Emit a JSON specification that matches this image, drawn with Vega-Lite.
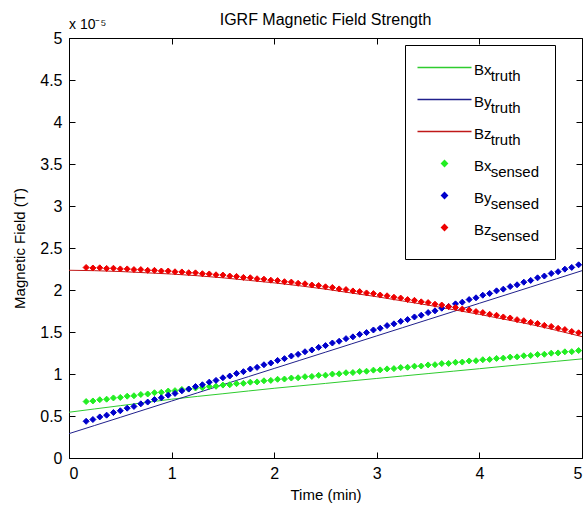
{
  "$schema": "https://vega.github.io/schema/vega-lite/v6.json",
  "width": 513,
  "height": 420,
  "autosize": {"type": "none"},
  "padding": {"left": 69, "top": 38, "right": 3, "bottom": 48},
  "background": "white",
  "title": {"text": "IGRF Magnetic Field Strength", "font": "Liberation Sans", "fontSize": 16, "fontWeight": "normal", "color": "black", "offset": -10},
  "config": {
    "font": "Liberation Sans",
    "view": {"stroke": "black", "strokeWidth": 1},
    "axis": {"grid": false, "ticks": true, "domainColor": "black", "tickColor": "black", "labelColor": "black", "titleColor": "black", "labelFont": "Liberation Sans", "titleFont": "Liberation Sans", "labelFontSize": 16, "titleFontSize": 15, "titleFontWeight": "normal", "tickSize": -6, "tickWidth": 1, "labelPadding": 13}
  },
  "resolve": {"axis": {"x": "independent", "y": "independent"}},
  "datasets": {
    "truth": [
      {"t": 0, "Bx_truth": 0.545, "By_truth": 0.29, "Bz_truth": 2.235},
      {"t": 0.25, "Bx_truth": 0.584, "By_truth": 0.387, "Bz_truth": 2.23},
      {"t": 0.5, "Bx_truth": 0.623, "By_truth": 0.484, "Bz_truth": 2.22},
      {"t": 0.75, "Bx_truth": 0.661, "By_truth": 0.581, "Bz_truth": 2.205},
      {"t": 1, "Bx_truth": 0.70, "By_truth": 0.678, "Bz_truth": 2.19},
      {"t": 1.25, "Bx_truth": 0.733, "By_truth": 0.775, "Bz_truth": 2.17},
      {"t": 1.5, "Bx_truth": 0.765, "By_truth": 0.872, "Bz_truth": 2.145},
      {"t": 1.75, "Bx_truth": 0.798, "By_truth": 0.969, "Bz_truth": 2.115},
      {"t": 2, "Bx_truth": 0.83, "By_truth": 1.066, "Bz_truth": 2.085},
      {"t": 2.25, "Bx_truth": 0.859, "By_truth": 1.163, "Bz_truth": 2.05},
      {"t": 2.5, "Bx_truth": 0.888, "By_truth": 1.26, "Bz_truth": 2.01},
      {"t": 2.75, "Bx_truth": 0.918, "By_truth": 1.357, "Bz_truth": 1.965},
      {"t": 3, "Bx_truth": 0.947, "By_truth": 1.454, "Bz_truth": 1.92},
      {"t": 3.25, "Bx_truth": 0.976, "By_truth": 1.551, "Bz_truth": 1.87},
      {"t": 3.5, "Bx_truth": 1.005, "By_truth": 1.648, "Bz_truth": 1.82},
      {"t": 3.75, "Bx_truth": 1.034, "By_truth": 1.745, "Bz_truth": 1.765},
      {"t": 4, "Bx_truth": 1.063, "By_truth": 1.842, "Bz_truth": 1.71},
      {"t": 4.25, "Bx_truth": 1.093, "By_truth": 1.939, "Bz_truth": 1.65},
      {"t": 4.5, "Bx_truth": 1.122, "By_truth": 2.036, "Bz_truth": 1.59},
      {"t": 4.75, "Bx_truth": 1.151, "By_truth": 2.133, "Bz_truth": 1.52},
      {"t": 5, "Bx_truth": 1.18, "By_truth": 2.23, "Bz_truth": 1.445}
    ],
    "sensed": [
      {"t": 0.167, "Bx_sensed": 0.672, "By_sensed": 0.437, "Bz_sensed": 2.268},
      {"t": 0.233, "Bx_sensed": 0.679, "By_sensed": 0.458, "Bz_sensed": 2.262},
      {"t": 0.300, "Bx_sensed": 0.694, "By_sensed": 0.489, "Bz_sensed": 2.264},
      {"t": 0.367, "Bx_sensed": 0.700, "By_sensed": 0.510, "Bz_sensed": 2.257},
      {"t": 0.433, "Bx_sensed": 0.715, "By_sensed": 0.541, "Bz_sensed": 2.259},
      {"t": 0.500, "Bx_sensed": 0.721, "By_sensed": 0.562, "Bz_sensed": 2.251},
      {"t": 0.567, "Bx_sensed": 0.736, "By_sensed": 0.593, "Bz_sensed": 2.251},
      {"t": 0.633, "Bx_sensed": 0.741, "By_sensed": 0.614, "Bz_sensed": 2.243},
      {"t": 0.700, "Bx_sensed": 0.756, "By_sensed": 0.645, "Bz_sensed": 2.243},
      {"t": 0.767, "Bx_sensed": 0.762, "By_sensed": 0.666, "Bz_sensed": 2.234},
      {"t": 0.833, "Bx_sensed": 0.777, "By_sensed": 0.696, "Bz_sensed": 2.234},
      {"t": 0.900, "Bx_sensed": 0.782, "By_sensed": 0.717, "Bz_sensed": 2.226},
      {"t": 0.967, "Bx_sensed": 0.797, "By_sensed": 0.748, "Bz_sensed": 2.226},
      {"t": 1.033, "Bx_sensed": 0.802, "By_sensed": 0.769, "Bz_sensed": 2.217},
      {"t": 1.100, "Bx_sensed": 0.816, "By_sensed": 0.800, "Bz_sensed": 2.215},
      {"t": 1.167, "Bx_sensed": 0.820, "By_sensed": 0.821, "Bz_sensed": 2.206},
      {"t": 1.233, "Bx_sensed": 0.833, "By_sensed": 0.851, "Bz_sensed": 2.204},
      {"t": 1.300, "Bx_sensed": 0.837, "By_sensed": 0.872, "Bz_sensed": 2.194},
      {"t": 1.367, "Bx_sensed": 0.851, "By_sensed": 0.903, "Bz_sensed": 2.191},
      {"t": 1.433, "Bx_sensed": 0.854, "By_sensed": 0.924, "Bz_sensed": 2.181},
      {"t": 1.500, "Bx_sensed": 0.868, "By_sensed": 0.955, "Bz_sensed": 2.178},
      {"t": 1.567, "Bx_sensed": 0.872, "By_sensed": 0.976, "Bz_sensed": 2.166},
      {"t": 1.633, "Bx_sensed": 0.885, "By_sensed": 1.007, "Bz_sensed": 2.162},
      {"t": 1.700, "Bx_sensed": 0.889, "By_sensed": 1.028, "Bz_sensed": 2.150},
      {"t": 1.767, "Bx_sensed": 0.903, "By_sensed": 1.059, "Bz_sensed": 2.146},
      {"t": 1.833, "Bx_sensed": 0.906, "By_sensed": 1.079, "Bz_sensed": 2.134},
      {"t": 1.900, "Bx_sensed": 0.919, "By_sensed": 1.110, "Bz_sensed": 2.129},
      {"t": 1.967, "Bx_sensed": 0.924, "By_sensed": 1.131, "Bz_sensed": 2.117},
      {"t": 2.033, "Bx_sensed": 0.937, "By_sensed": 1.162, "Bz_sensed": 2.112},
      {"t": 2.100, "Bx_sensed": 0.940, "By_sensed": 1.183, "Bz_sensed": 2.099},
      {"t": 2.167, "Bx_sensed": 0.952, "By_sensed": 1.214, "Bz_sensed": 2.094},
      {"t": 2.233, "Bx_sensed": 0.955, "By_sensed": 1.234, "Bz_sensed": 2.080},
      {"t": 2.300, "Bx_sensed": 0.968, "By_sensed": 1.265, "Bz_sensed": 2.074},
      {"t": 2.367, "Bx_sensed": 0.971, "By_sensed": 1.286, "Bz_sensed": 2.059},
      {"t": 2.433, "Bx_sensed": 0.984, "By_sensed": 1.317, "Bz_sensed": 2.053},
      {"t": 2.500, "Bx_sensed": 0.986, "By_sensed": 1.338, "Bz_sensed": 2.038},
      {"t": 2.567, "Bx_sensed": 0.999, "By_sensed": 1.369, "Bz_sensed": 2.030},
      {"t": 2.633, "Bx_sensed": 1.002, "By_sensed": 1.390, "Bz_sensed": 2.013},
      {"t": 2.700, "Bx_sensed": 1.015, "By_sensed": 1.421, "Bz_sensed": 2.005},
      {"t": 2.767, "Bx_sensed": 1.017, "By_sensed": 1.442, "Bz_sensed": 1.989},
      {"t": 2.833, "Bx_sensed": 1.030, "By_sensed": 1.472, "Bz_sensed": 1.981},
      {"t": 2.900, "Bx_sensed": 1.033, "By_sensed": 1.493, "Bz_sensed": 1.965},
      {"t": 2.967, "Bx_sensed": 1.046, "By_sensed": 1.524, "Bz_sensed": 1.957},
      {"t": 3.033, "Bx_sensed": 1.049, "By_sensed": 1.545, "Bz_sensed": 1.940},
      {"t": 3.100, "Bx_sensed": 1.061, "By_sensed": 1.576, "Bz_sensed": 1.931},
      {"t": 3.167, "Bx_sensed": 1.064, "By_sensed": 1.597, "Bz_sensed": 1.914},
      {"t": 3.233, "Bx_sensed": 1.077, "By_sensed": 1.627, "Bz_sensed": 1.904},
      {"t": 3.300, "Bx_sensed": 1.080, "By_sensed": 1.648, "Bz_sensed": 1.886},
      {"t": 3.367, "Bx_sensed": 1.093, "By_sensed": 1.679, "Bz_sensed": 1.877},
      {"t": 3.433, "Bx_sensed": 1.095, "By_sensed": 1.700, "Bz_sensed": 1.859},
      {"t": 3.500, "Bx_sensed": 1.108, "By_sensed": 1.731, "Bz_sensed": 1.850},
      {"t": 3.567, "Bx_sensed": 1.111, "By_sensed": 1.752, "Bz_sensed": 1.831},
      {"t": 3.633, "Bx_sensed": 1.124, "By_sensed": 1.783, "Bz_sensed": 1.821},
      {"t": 3.700, "Bx_sensed": 1.126, "By_sensed": 1.804, "Bz_sensed": 1.802},
      {"t": 3.767, "Bx_sensed": 1.139, "By_sensed": 1.835, "Bz_sensed": 1.791},
      {"t": 3.833, "Bx_sensed": 1.142, "By_sensed": 1.855, "Bz_sensed": 1.773},
      {"t": 3.900, "Bx_sensed": 1.155, "By_sensed": 1.886, "Bz_sensed": 1.762},
      {"t": 3.967, "Bx_sensed": 1.158, "By_sensed": 1.907, "Bz_sensed": 1.743},
      {"t": 4.033, "Bx_sensed": 1.170, "By_sensed": 1.938, "Bz_sensed": 1.731},
      {"t": 4.100, "Bx_sensed": 1.173, "By_sensed": 1.959, "Bz_sensed": 1.711},
      {"t": 4.167, "Bx_sensed": 1.186, "By_sensed": 1.990, "Bz_sensed": 1.699},
      {"t": 4.233, "Bx_sensed": 1.189, "By_sensed": 2.010, "Bz_sensed": 1.679},
      {"t": 4.300, "Bx_sensed": 1.201, "By_sensed": 2.041, "Bz_sensed": 1.667},
      {"t": 4.367, "Bx_sensed": 1.204, "By_sensed": 2.062, "Bz_sensed": 1.647},
      {"t": 4.433, "Bx_sensed": 1.217, "By_sensed": 2.093, "Bz_sensed": 1.635},
      {"t": 4.500, "Bx_sensed": 1.220, "By_sensed": 2.114, "Bz_sensed": 1.615},
      {"t": 4.567, "Bx_sensed": 1.232, "By_sensed": 2.145, "Bz_sensed": 1.601},
      {"t": 4.633, "Bx_sensed": 1.235, "By_sensed": 2.166, "Bz_sensed": 1.579},
      {"t": 4.700, "Bx_sensed": 1.248, "By_sensed": 2.197, "Bz_sensed": 1.566},
      {"t": 4.767, "Bx_sensed": 1.251, "By_sensed": 2.218, "Bz_sensed": 1.544},
      {"t": 4.833, "Bx_sensed": 1.264, "By_sensed": 2.248, "Bz_sensed": 1.529},
      {"t": 4.900, "Bx_sensed": 1.266, "By_sensed": 2.269, "Bz_sensed": 1.506},
      {"t": 4.967, "Bx_sensed": 1.279, "By_sensed": 2.300, "Bz_sensed": 1.491}
    ],
    "note": [{"label": "x 10⁻⁵", "t": 0, "v": 5}]
  },
  "layer": [
    {
      "data": {"name": "truth"},
      "transform": [{"fold": ["Bx_truth", "By_truth", "Bz_truth"], "as": ["series", "value"]}],
      "mark": {"type": "line", "strokeWidth": 1, "interpolate": "monotone"},
      "encoding": {
        "x": {"field": "t", "type": "quantitative", "scale": {"domain": [0, 5], "nice": false},
              "axis": {"values": [0, 1, 2, 3, 4, 5], "format": "d", "title": "Time (min)", "titlePadding": 6}},
        "y": {"field": "value", "type": "quantitative", "scale": {"domain": [0, 5], "nice": false},
              "axis": {"values": [0, 0.5, 1, 1.5, 2, 2.5, 3, 3.5, 4, 4.5, 5], "format": "~g", "title": "Magnetic Field (T)", "titlePadding": 12}},
        "color": {"field": "series", "type": "nominal",
          "scale": {"domain": ["Bx_truth", "By_truth", "Bz_truth", "Bx_sensed", "By_sensed", "Bz_sensed"],
                    "range": ["#2ecc2e", "#20208c", "#c01818", "#22ee22", "#0000cc", "#ee0000"]},
          "legend": {"orient": "none", "legendX": 336, "legendY": 7, "title": null, "strokeColor": "black", "fillColor": "white",
                     "padding": 15, "symbolOffset": 17, "labelOffset": 22, "symbolSize": 36, "symbolStrokeWidth": 1.3,
                     "labelFontSize": 15, "labelFont": "Liberation Sans", "labelColor": "black", "rowPadding": 8,
                     "labelBaseline": "middle",
                     "labelExpr": "[split(datum.label, '_')[0], '\u200b\u00a0\u00a0\u00a0\u00a0' + split(datum.label, '_')[1]]",
                     "encode": {
                       "labels": {"update": {"lineHeight": {"value": 6}, "dy": {"value": 2}}},
                       "symbols": {"update": {"stroke": {"scale": "color", "field": "value"}, "strokeWidth": {"value": 1.3}, "opacity": {"value": 1}}}
                     }}}
      }
    },
    {
      "data": {"name": "sensed"},
      "transform": [{"fold": ["Bx_sensed", "By_sensed", "Bz_sensed"], "as": ["series", "value"]}],
      "mark": {"type": "point", "filled": true, "opacity": 1, "size": 36, "strokeWidth": 1},
      "encoding": {
        "x": {"field": "t", "type": "quantitative", "axis": null},
        "y": {"field": "value", "type": "quantitative", "axis": null},
        "color": {"field": "series", "type": "nominal"},
        "stroke": {"field": "series", "type": "nominal",
          "scale": {"domain": ["Bx_truth", "By_truth", "Bz_truth", "Bx_sensed", "By_sensed", "Bz_sensed"],
                    "range": ["#2ecc2e", "#20208c", "#c01818", "#22ee22", "#0000cc", "#ee0000"]}},
        "shape": {"field": "series", "type": "nominal",
          "scale": {"domain": ["Bx_truth", "By_truth", "Bz_truth", "Bx_sensed", "By_sensed", "Bz_sensed"],
                    "range": ["M-9,0H9", "M-9,0H9", "M-9,0H9", "diamond", "diamond", "diamond"]}}
      }
    },
    {
      "data": {"name": "truth"},
      "mark": {"type": "point", "opacity": 0},
      "encoding": {
        "x": {"field": "t", "type": "quantitative",
              "axis": {"orient": "top", "values": [0, 1, 2, 3, 4, 5], "labels": false, "domain": false, "title": null}},
        "y": {"field": "Bx_truth", "type": "quantitative",
              "axis": {"orient": "right", "values": [0, 0.5, 1, 1.5, 2, 2.5, 3, 3.5, 4, 4.5, 5], "labels": false, "domain": false, "title": null}}
      }
    },
    {
      "data": {"name": "note"},
      "mark": {"type": "text", "align": "left", "baseline": "alphabetic", "dy": -9, "fontSize": 14, "font": "Liberation Sans", "color": "black"},
      "encoding": {
        "x": {"field": "t", "type": "quantitative", "axis": null},
        "y": {"field": "v", "type": "quantitative", "axis": null},
        "text": {"field": "label"}
      }
    }
  ]
}
